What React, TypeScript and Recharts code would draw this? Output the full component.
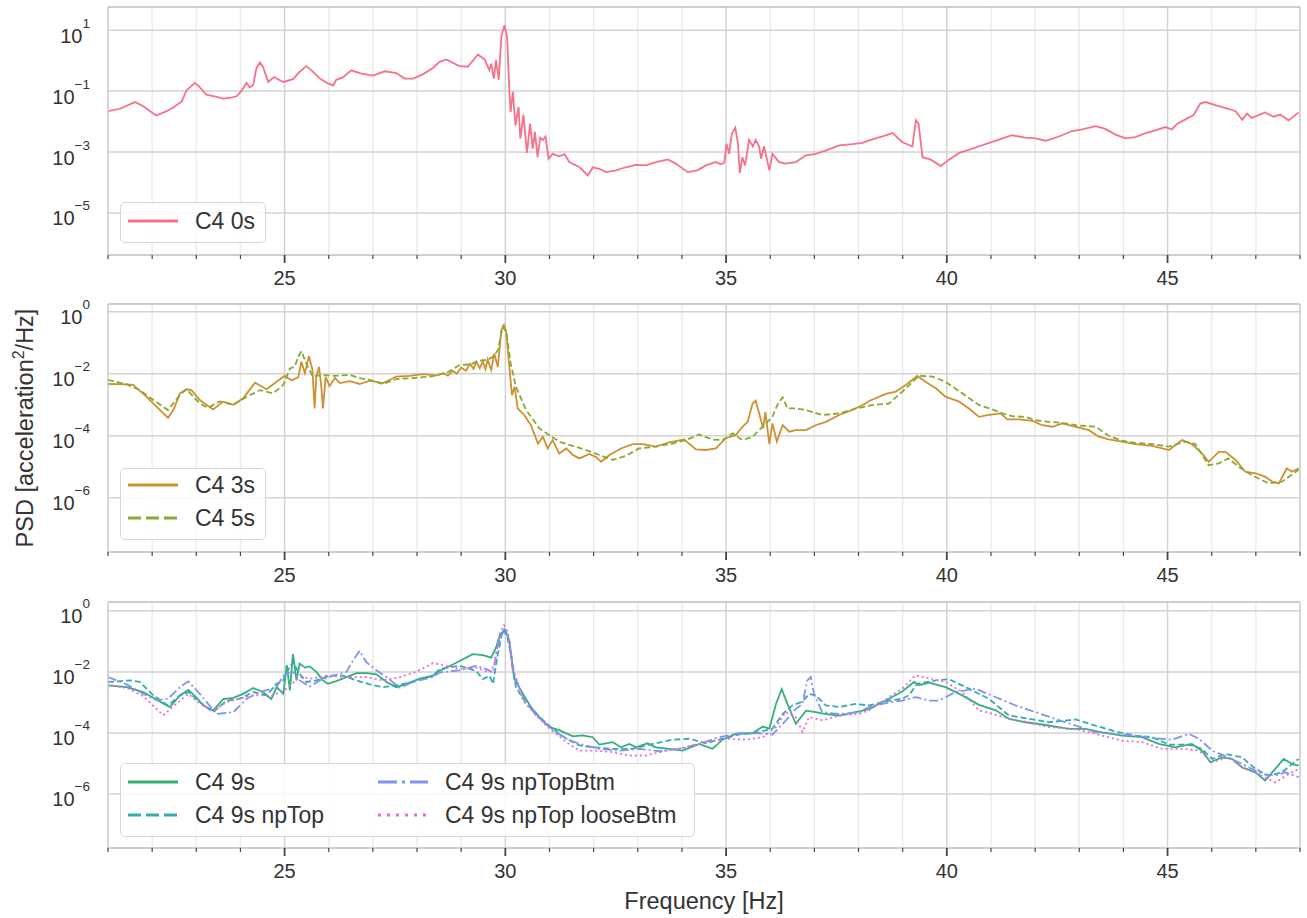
import React from "react"
import { LineChart, Line, XAxis, YAxis, CartesianGrid, ReferenceLine, Label } from "recharts"

// each point: [frequency in Hz, log10 of PSD in acceleration^2/Hz]
type Pt = [number, number]

const freqTicks = [21, 22, 23, 24, 25, 26, 27, 28, 29, 30, 31, 32, 33, 34, 35, 36, 37, 38, 39, 40, 41, 42, 43, 44, 45, 46, 47, 48]
const freqMajor = [25, 30, 35, 40, 45]
const freqMinor = [22, 23, 24, 26, 27, 28, 29, 31, 32, 33, 34, 36, 37, 38, 39, 41, 42, 43, 44, 46, 47]
const decadesTop = [1, -1, -3, -5]
const decadesLower = [0, -2, -4, -6]

const c4_0s: Pt[] = [
  [21.0, -1.66], [21.27, -1.58], [21.61, -1.36], [21.8, -1.5], [22.09, -1.8], [22.33, -1.66], [22.48, -1.54],
  [22.67, -1.34], [22.78, -0.97], [22.97, -0.73], [23.08, -0.88], [23.23, -1.12], [23.46, -1.19], [23.61, -1.25],
  [23.76, -1.22], [23.91, -1.17], [24.02, -1.0], [24.14, -0.73], [24.21, -0.88], [24.29, -0.8], [24.36, -0.26],
  [24.44, -0.06], [24.51, -0.2], [24.63, -0.7], [24.76, -0.54], [24.97, -0.7], [25.19, -0.61], [25.34, -0.37],
  [25.49, -0.18], [25.61, -0.32], [25.8, -0.59], [25.98, -0.75], [26.1, -0.81], [26.17, -0.63], [26.32, -0.55],
  [26.51, -0.32], [26.74, -0.43], [27.0, -0.49], [27.27, -0.35], [27.53, -0.41], [27.72, -0.59], [27.91, -0.59],
  [28.13, -0.45], [28.36, -0.24], [28.51, -0.04], [28.66, 0.04], [28.96, -0.18], [29.15, -0.2], [29.38, 0.2],
  [29.53, 0.04], [29.64, -0.32], [29.68, -0.1], [29.74, -0.59], [29.79, 0.02], [29.85, -0.63], [29.91, 0.78],
  [29.98, 1.16], [30.04, 0.78], [30.09, -0.97], [30.12, -1.69], [30.17, -1.02], [30.23, -2.13], [30.3, -1.52],
  [30.34, -2.56], [30.41, -1.77], [30.49, -3.03], [30.56, -2.07], [30.62, -2.89], [30.67, -2.34], [30.73, -3.17],
  [30.79, -2.53], [30.85, -2.61], [30.91, -2.49], [30.98, -3.22], [31.07, -3.06], [31.22, -3.14], [31.34, -3.07],
  [31.45, -3.33], [31.68, -3.5], [31.87, -3.77], [31.98, -3.5], [32.13, -3.55], [32.28, -3.66], [32.51, -3.6],
  [32.73, -3.5], [32.96, -3.42], [33.19, -3.44], [33.41, -3.33], [33.68, -3.24], [33.86, -3.38], [34.13, -3.66],
  [34.35, -3.6], [34.54, -3.44], [34.77, -3.33], [34.88, -3.4], [34.96, -3.35], [35.01, -2.73], [35.07, -3.06],
  [35.13, -2.4], [35.21, -2.2], [35.27, -2.73], [35.31, -3.69], [35.37, -3.17], [35.43, -3.44], [35.52, -2.6],
  [35.61, -2.82], [35.67, -2.6], [35.75, -2.82], [35.79, -3.22], [35.86, -2.82], [35.98, -3.6], [36.05, -3.06],
  [36.2, -3.33], [36.35, -3.38], [36.58, -3.33], [36.81, -3.11], [37.03, -3.06], [37.3, -2.93], [37.56, -2.78],
  [37.86, -2.74], [38.09, -2.7], [38.24, -2.62], [38.54, -2.49], [38.77, -2.38], [38.99, -2.67], [39.22, -2.82],
  [39.3, -1.96], [39.36, -2.07], [39.45, -3.17], [39.64, -3.25], [39.86, -3.46], [40.05, -3.25], [40.28, -3.03],
  [40.5, -2.93], [40.73, -2.81], [41.03, -2.67], [41.26, -2.55], [41.48, -2.45], [41.78, -2.53], [42.01, -2.55],
  [42.24, -2.63], [42.54, -2.49], [42.84, -2.31], [43.07, -2.26], [43.37, -2.15], [43.59, -2.24], [43.82, -2.43],
  [44.05, -2.55], [44.27, -2.51], [44.5, -2.38], [44.73, -2.29], [44.95, -2.18], [45.1, -2.26], [45.22, -2.07],
  [45.48, -1.87], [45.59, -1.79], [45.74, -1.41], [45.86, -1.36], [46.08, -1.46], [46.38, -1.58], [46.54, -1.66],
  [46.69, -1.94], [46.8, -1.74], [46.91, -1.88], [47.21, -1.7], [47.4, -1.84], [47.55, -1.77], [47.74, -1.96],
  [47.97, -1.7],
]

const c4_3s: Pt[] = [
  [21.0, -2.33], [21.42, -2.34], [21.57, -2.36], [21.87, -2.74], [22.18, -3.17], [22.36, -3.42], [22.48, -3.17],
  [22.63, -2.63], [22.78, -2.5], [22.89, -2.53], [23.08, -2.85], [23.38, -3.15], [23.61, -2.9], [23.84, -3.0],
  [24.06, -2.79], [24.33, -2.29], [24.59, -2.5], [24.82, -2.26], [25.0, -2.07], [25.16, -2.22], [25.31, -2.11],
  [25.38, -1.61], [25.46, -1.98], [25.55, -1.43], [25.63, -1.87], [25.68, -3.12], [25.72, -2.07], [25.78, -1.78],
  [25.83, -2.4], [25.87, -3.12], [25.93, -2.1], [26.02, -2.4], [26.14, -2.13], [26.25, -2.3], [26.48, -2.24],
  [26.7, -2.33], [26.93, -2.22], [27.23, -2.3], [27.53, -2.09], [27.83, -2.07], [28.13, -2.01], [28.44, -2.05],
  [28.6, -1.98], [28.7, -2.06], [28.81, -1.91], [28.9, -2.0], [29.0, -1.8], [29.11, -1.9], [29.2, -1.68],
  [29.28, -1.84], [29.34, -1.61], [29.42, -1.82], [29.49, -1.6], [29.55, -1.85], [29.6, -1.54], [29.68, -1.88],
  [29.75, -1.35], [29.83, -1.78], [29.91, -0.59], [29.97, -0.43], [30.02, -0.64], [30.09, -1.78], [30.15, -2.69],
  [30.21, -2.42], [30.28, -3.12], [30.43, -3.33], [30.58, -3.66], [30.74, -4.25], [30.85, -4.03], [30.96, -4.41],
  [31.07, -4.14], [31.22, -4.57], [31.38, -4.41], [31.53, -4.62], [31.68, -4.73], [31.9, -4.59], [32.05, -4.68],
  [32.17, -4.84], [32.36, -4.62], [32.62, -4.41], [32.88, -4.27], [33.11, -4.27], [33.41, -4.35], [33.71, -4.21],
  [34.05, -4.12], [34.32, -4.44], [34.54, -4.46], [34.77, -4.41], [34.99, -4.08], [35.22, -3.98], [35.37, -3.71],
  [35.49, -3.55], [35.6, -2.96], [35.67, -2.87], [35.75, -3.28], [35.84, -3.76], [35.89, -3.23], [35.98, -4.27],
  [36.05, -3.6], [36.15, -4.19], [36.28, -3.66], [36.43, -3.87], [36.58, -3.82], [36.81, -3.82], [37.03, -3.66],
  [37.26, -3.55], [37.56, -3.33], [37.86, -3.17], [38.16, -2.96], [38.24, -2.88], [38.62, -2.65], [38.84, -2.58],
  [39.07, -2.36], [39.33, -2.07], [39.52, -2.26], [39.75, -2.47], [39.97, -2.74], [40.28, -2.9], [40.5, -3.12],
  [40.73, -3.39], [40.95, -3.33], [41.22, -3.28], [41.37, -3.47], [41.63, -3.47], [41.94, -3.52], [42.16, -3.66],
  [42.39, -3.71], [42.61, -3.6], [42.92, -3.71], [43.22, -3.82], [43.44, -4.03], [43.67, -4.12], [43.97, -4.19],
  [44.27, -4.27], [44.65, -4.33], [45.03, -4.46], [45.33, -4.14], [45.55, -4.27], [45.78, -4.57], [45.93, -4.84],
  [46.16, -4.52], [46.31, -4.52], [46.54, -4.78], [46.76, -5.16], [46.99, -5.21], [47.21, -5.32], [47.37, -5.48],
  [47.52, -5.54], [47.7, -5.05], [47.82, -5.16], [47.97, -5.05],
]

const c4_5s: Pt[] = [
  [21.0, -2.2], [21.42, -2.34], [21.72, -2.53], [22.03, -2.85], [22.36, -3.17], [22.63, -2.68], [22.78, -2.5],
  [23.08, -2.96], [23.27, -3.1], [23.53, -2.89], [23.84, -3.0], [24.14, -2.74], [24.44, -2.53], [24.74, -2.63],
  [24.97, -2.36], [25.12, -1.83], [25.23, -1.77], [25.31, -1.45], [25.38, -1.27], [25.49, -1.67], [25.64, -2.09],
  [25.83, -2.04], [26.1, -2.07], [26.48, -2.04], [26.7, -2.14], [26.93, -2.2], [27.23, -2.33], [27.53, -2.17],
  [27.91, -2.14], [28.36, -2.08], [28.7, -1.95], [28.96, -1.72], [29.2, -1.7], [29.42, -1.58], [29.6, -1.55],
  [29.72, -1.45], [29.83, -1.24], [29.94, -0.49], [30.02, -0.64], [30.12, -1.67], [30.24, -2.42], [30.47, -3.17],
  [30.77, -3.76], [31.0, -3.98], [31.22, -4.19], [31.53, -4.33], [31.83, -4.46], [32.13, -4.62], [32.43, -4.78],
  [32.73, -4.65], [33.03, -4.41], [33.41, -4.35], [33.79, -4.25], [34.09, -4.14], [34.39, -3.96], [34.69, -4.12],
  [34.92, -4.14], [35.15, -3.92], [35.37, -4.14], [35.6, -4.03], [35.75, -3.82], [36.05, -3.39], [36.16, -3.01],
  [36.28, -2.76], [36.39, -3.12], [36.58, -3.12], [36.81, -3.17], [37.18, -3.33], [37.56, -3.28], [37.94, -3.12],
  [38.31, -3.01], [38.69, -2.96], [38.99, -2.58], [39.37, -2.07], [39.67, -2.09], [39.97, -2.26], [40.35, -2.63],
  [40.73, -3.01], [41.03, -3.15], [41.26, -3.28], [41.48, -3.37], [41.78, -3.39], [42.01, -3.5], [42.31, -3.55],
  [42.61, -3.58], [42.92, -3.66], [43.37, -3.71], [43.67, -4.0], [43.97, -4.16], [44.27, -4.23], [44.65, -4.27],
  [45.03, -4.35], [45.4, -4.19], [45.63, -4.27], [45.93, -4.95], [46.16, -4.89], [46.38, -4.73], [46.61, -5.0],
  [46.91, -5.27], [47.29, -5.54], [47.59, -5.48], [47.97, -5.1],
]

const c4_9s: Pt[] = [
  [21.0, -2.44], [21.42, -2.5], [21.8, -2.66], [22.1, -2.91], [22.4, -3.15], [22.63, -2.77], [22.82, -2.59],
  [23.01, -2.85], [23.16, -3.1], [23.38, -3.27], [23.61, -2.89], [23.84, -2.85], [24.06, -2.72], [24.29, -2.53],
  [24.51, -2.66], [24.7, -2.89], [24.82, -2.5], [24.97, -2.72], [25.05, -1.78], [25.12, -2.61], [25.19, -1.42],
  [25.27, -2.28], [25.34, -1.73], [25.46, -1.86], [25.57, -1.82], [25.72, -2.0], [25.87, -2.28], [25.98, -2.39],
  [26.17, -2.3], [26.4, -2.17], [26.63, -2.04], [26.85, -2.04], [27.08, -2.08], [27.31, -2.33], [27.53, -2.5],
  [27.76, -2.39], [28.06, -2.22], [28.36, -2.12], [28.51, -1.97], [28.89, -1.7], [29.26, -1.42], [29.49, -1.45],
  [29.68, -1.53], [29.79, -1.2], [29.87, -0.82], [29.98, -0.61], [30.09, -0.96], [30.2, -2.22], [30.4, -2.72],
  [30.58, -3.15], [30.77, -3.48], [31.0, -3.81], [31.22, -3.91], [31.53, -4.11], [31.75, -4.08], [31.98, -4.14],
  [32.13, -4.38], [32.43, -4.3], [32.62, -4.47], [32.81, -4.36], [32.96, -4.47], [33.22, -4.34], [33.41, -4.47],
  [33.71, -4.52], [34.02, -4.58], [34.39, -4.36], [34.69, -4.52], [34.92, -4.22], [35.22, -4.03], [35.6, -4.01],
  [35.83, -3.79], [35.98, -3.86], [36.13, -3.05], [36.26, -2.57], [36.39, -3.05], [36.58, -3.7], [36.81, -3.27],
  [37.03, -3.32], [37.26, -3.38], [37.56, -3.43], [37.94, -3.32], [38.24, -3.22], [38.69, -2.88], [38.99, -2.64],
  [39.26, -2.33], [39.37, -2.44], [39.6, -2.35], [39.97, -2.5], [40.35, -2.77], [40.73, -3.08], [41.11, -3.26],
  [41.41, -3.54], [41.78, -3.65], [42.24, -3.74], [42.76, -3.87], [43.14, -3.87], [43.52, -3.98], [43.97, -4.09],
  [44.42, -4.14], [44.8, -4.36], [45.18, -4.47], [45.55, -4.36], [45.78, -4.58], [45.97, -4.96], [46.23, -4.8],
  [46.46, -4.85], [46.69, -5.13], [46.99, -5.29], [47.21, -5.56], [47.44, -5.18], [47.63, -4.85], [47.82, -5.02],
  [47.97, -5.07],
]

const c4_9s_npTop: Pt[] = [
  [21.0, -2.33], [21.5, -2.28], [21.72, -2.33], [22.03, -2.77], [22.36, -3.1], [22.63, -2.77], [22.82, -2.66],
  [23.08, -2.99], [23.38, -3.32], [23.68, -2.95], [23.98, -2.88], [24.29, -2.66], [24.59, -2.77], [24.82, -2.39],
  [24.97, -2.28], [25.05, -2.0], [25.19, -1.67], [25.31, -2.0], [25.49, -2.33], [25.72, -2.28], [26.02, -2.12],
  [26.32, -2.12], [26.63, -2.28], [26.93, -2.41], [27.23, -2.5], [27.53, -2.44], [27.91, -2.33], [28.36, -2.12],
  [28.51, -1.91], [28.96, -1.8], [29.34, -1.97], [29.49, -2.24], [29.64, -2.12], [29.72, -2.39], [29.83, -1.42],
  [29.94, -0.64], [30.02, -0.69], [30.13, -1.42], [30.24, -2.5], [30.4, -2.88], [30.55, -3.15], [30.77, -3.48],
  [31.07, -3.86], [31.38, -4.19], [31.68, -4.41], [31.98, -4.47], [32.43, -4.52], [32.88, -4.52], [33.34, -4.36],
  [33.79, -4.22], [34.17, -4.19], [34.54, -4.34], [34.92, -4.19], [35.3, -4.05], [35.75, -3.97], [36.05, -3.86],
  [36.28, -3.38], [36.5, -3.1], [36.73, -2.97], [36.88, -2.72], [37.03, -2.77], [37.26, -3.1], [37.56, -3.15],
  [37.94, -3.05], [38.24, -3.1], [38.69, -2.94], [38.99, -2.88], [39.14, -2.77], [39.33, -2.39], [39.75, -2.28],
  [40.05, -2.24], [40.5, -2.55], [40.95, -2.88], [41.41, -3.43], [41.86, -3.54], [42.31, -3.65], [42.92, -3.56],
  [43.37, -3.76], [43.82, -3.95], [44.27, -4.09], [44.65, -4.14], [45.03, -4.38], [45.48, -4.38], [45.78, -4.52],
  [46.01, -4.85], [46.31, -4.69], [46.69, -4.8], [46.99, -5.18], [47.29, -5.4], [47.59, -5.29], [47.97, -4.85],
]

const c4_9s_npTopBtm: Pt[] = [
  [21.0, -2.17], [21.42, -2.41], [21.8, -2.72], [22.1, -2.93], [22.36, -2.88], [22.63, -2.5], [22.82, -2.31],
  [23.08, -2.72], [23.46, -3.38], [23.84, -3.32], [24.14, -2.88], [24.44, -2.66], [24.82, -2.5], [25.0, -2.06],
  [25.19, -2.0], [25.34, -2.28], [25.57, -2.48], [25.8, -2.28], [26.1, -2.12], [26.4, -2.0], [26.55, -1.62],
  [26.7, -1.31], [26.85, -1.68], [27.08, -1.95], [27.31, -2.17], [27.61, -2.52], [27.91, -2.33], [28.36, -2.17],
  [28.51, -2.02], [28.96, -1.95], [29.34, -1.8], [29.57, -1.91], [29.72, -2.02], [29.83, -1.15], [29.94, -0.69],
  [30.06, -0.8], [30.17, -1.97], [30.4, -2.83], [30.7, -3.43], [31.07, -3.9], [31.38, -4.19], [31.68, -4.36],
  [32.13, -4.52], [32.58, -4.58], [33.03, -4.52], [33.49, -4.6], [33.94, -4.52], [34.39, -4.36], [34.84, -4.14],
  [35.3, -4.01], [35.75, -4.01], [36.05, -4.05], [36.35, -3.6], [36.58, -3.21], [36.73, -3.05], [36.84, -2.28],
  [36.92, -2.17], [36.99, -2.72], [37.18, -3.32], [37.56, -3.38], [38.01, -3.32], [38.24, -3.15], [38.69, -3.0],
  [38.99, -2.94], [39.3, -2.83], [39.6, -2.94], [39.82, -2.94], [40.2, -2.66], [40.65, -2.55], [41.11, -2.83],
  [41.56, -3.1], [42.01, -3.32], [42.46, -3.54], [42.92, -3.76], [43.37, -3.98], [43.82, -4.03], [44.27, -4.09],
  [44.73, -4.18], [45.1, -4.22], [45.48, -4.03], [45.71, -4.19], [46.01, -4.58], [46.38, -4.8], [46.76, -5.07],
  [47.14, -5.35], [47.44, -5.4], [47.67, -5.29], [47.97, -5.45],
]

const c4_9s_npTop_looseBtm: Pt[] = [
  [21.0, -2.44], [21.42, -2.52], [21.8, -2.8], [22.25, -3.42], [22.55, -3.04], [22.82, -2.72], [23.08, -3.04],
  [23.38, -3.28], [23.68, -2.99], [23.98, -2.88], [24.29, -2.77], [24.74, -2.77], [25.05, -2.55], [25.34, -2.17],
  [25.64, -2.22], [25.95, -2.12], [26.4, -2.17], [26.85, -2.17], [27.23, -2.28], [27.61, -2.17], [27.98, -2.0],
  [28.36, -1.71], [28.51, -1.75], [28.96, -1.91], [29.34, -1.86], [29.64, -2.02], [29.75, -1.75], [29.87, -0.75],
  [29.97, -0.47], [30.06, -0.69], [30.17, -1.86], [30.4, -2.94], [30.7, -3.43], [31.0, -3.86], [31.38, -4.3],
  [31.68, -4.58], [32.05, -4.58], [32.43, -4.63], [32.81, -4.74], [33.19, -4.74], [33.64, -4.58], [34.09, -4.47],
  [34.54, -4.3], [34.99, -4.19], [35.45, -4.22], [35.83, -4.14], [36.13, -3.81], [36.35, -3.32], [36.58, -3.48],
  [36.73, -3.97], [36.88, -3.48], [37.18, -3.59], [37.56, -3.43], [38.01, -3.38], [38.24, -3.26], [38.69, -2.83],
  [38.99, -2.55], [39.29, -2.11], [39.6, -2.22], [39.97, -2.33], [40.35, -2.66], [40.73, -3.26], [41.03, -3.37],
  [41.41, -3.54], [41.86, -3.65], [42.31, -3.81], [42.92, -3.87], [43.52, -4.09], [43.97, -4.25], [44.42, -4.3],
  [44.88, -4.52], [45.4, -4.52], [45.71, -4.58], [46.01, -4.96], [46.38, -4.8], [46.69, -5.13], [47.06, -5.35],
  [47.44, -5.62], [47.74, -5.35], [47.97, -5.18],
]

type Series = { name: string; pts: Pt[]; color: string; dash?: string; legendDash?: string }

const seriesTop: Series[] = [{ name: "C4 0s", pts: c4_0s, color: "#f77189" }]
const seriesMid: Series[] = [
  { name: "C4 3s", pts: c4_3s, color: "#ce9032" },
  { name: "C4 5s", pts: c4_5s, color: "#86ab33", dash: "6 3", legendDash: "13 5" },
]
const seriesLow: Series[] = [
  { name: "C4 9s", pts: c4_9s, color: "#33b07a" },
  { name: "C4 9s npTop", pts: c4_9s_npTop, color: "#36abb0", dash: "6 3", legendDash: "13 5" },
  { name: "C4 9s npTopBtm", pts: c4_9s_npTopBtm, color: "#8094f0", dash: "9 3 2 3", legendDash: "19 5 3 5" },
  { name: "C4 9s npTop looseBtm", pts: c4_9s_npTop_looseBtm, color: "#f066e0", dash: "2 3", legendDash: "3 6" },
]

const FONT = "'Liberation Sans', Arial, Helvetica, sans-serif"
const TEXT = "#333333"

const toRows = (pts: Pt[]) => pts.map(([f, e]) => ({ f, v: Math.pow(10, e) }))

function XTick(props: any) {
  const { x, y, payload } = props
  const major = payload.value % 5 === 0
  return (
    <g>
      <line x1={x} x2={x} y1={y} y2={y + (major ? 8 : 4)} stroke="#444" strokeWidth={major ? 1.8 : 1.2} />
      {major && (
        <text x={x} y={y + 30} textAnchor="middle" fontSize={20} fontFamily={FONT} fill={TEXT}>
          {payload.value}
        </text>
      )}
    </g>
  )
}

function YTick(props: any) {
  const { x, y, payload } = props
  const exp = Math.round(Math.log10(payload.value))
  const sup = exp < 0 ? "\u2212" + String(-exp) : String(exp)
  return (
    <text x={x} y={y + 12.5} textAnchor="end" fontSize={20} fontFamily={FONT} fill={TEXT}>
      10
      <tspan dy={-15} fontSize={13.5}>{sup}</tspan>
    </text>
  )
}

function PsdLabel(props: any) {
  const vb = props.viewBox
  const cx = 33
  const cy = vb.y + vb.height / 2
  return (
    <text x={cx} y={cy} transform={`rotate(-90, ${cx}, ${cy})`} textAnchor="middle" fontSize={23.5} fontFamily={FONT} fill={TEXT}>
      PSD [acceleration
      <tspan dy={-9} fontSize={16}>2</tspan>
      <tspan dy={9}>/Hz]</tspan>
    </text>
  )
}

function FreqLabel(props: any) {
  const vb = props.viewBox
  return (
    <text x={vb.x + vb.width / 2} y={vb.y + 61} textAnchor="middle" fontSize={23.5} fontFamily={FONT} fill={TEXT}>
      Frequency [Hz]
    </text>
  )
}

type LegendBox = { left: number; top: number; width: number; height: number; rows: number[]; cols: number[] }

function PanelLegend({ box, series }: { box: LegendBox; series: Series[] }) {
  const perCol = box.rows.length
  return (
    <div
      style={{
        position: "absolute",
        left: box.left,
        top: box.top,
        width: box.width,
        height: box.height,
        boxSizing: "border-box",
        border: "1px solid #d6d6d6",
        borderRadius: 5,
        background: "rgba(255,255,255,0.85)",
      }}
    >
      <svg width={box.width - 2} height={box.height - 2} style={{ display: "block" }}>
        {series.map((s, i) => {
          const col = Math.floor(i / perCol)
          const ry = box.rows[i % perCol]
          const lx = box.cols[col]
          return (
            <g key={s.name}>
              <line x1={lx} x2={lx + 50} y1={ry} y2={ry} stroke={s.color} strokeWidth={3} strokeDasharray={s.legendDash} />
              <text x={lx + 67} y={ry + 8} fontSize={23} fontFamily={FONT} fill={TEXT}>
                {s.name}
              </text>
            </g>
          )
        })}
      </svg>
    </div>
  )
}

type Panel = {
  key: string
  top: number
  height: number
  marginTop: number
  axisHeight: number
  expMin: number
  expMax: number
  decades: number[]
  series: Series[]
  legend: LegendBox
  yLabel?: boolean
  xLabel?: boolean
}

const panels: Panel[] = [
  {
    key: "top", top: 0, height: 300, marginTop: 7, axisHeight: 45, expMin: -6.38, expMax: 1.76,
    decades: decadesTop, series: seriesTop,
    legend: { left: 120, top: 202, width: 146, height: 41, rows: [18], cols: [7] },
  },
  {
    key: "mid", top: 297, height: 300, marginTop: 7, axisHeight: 45, expMin: -7.75, expMax: 0.25,
    decades: decadesLower, series: seriesMid, yLabel: true,
    legend: { left: 120, top: 468, width: 146, height: 72, rows: [16, 49], cols: [7] },
  },
  {
    key: "low", top: 594, height: 324, marginTop: 8, axisHeight: 70, expMin: -7.77, expMax: 0.29,
    decades: decadesLower, series: seriesLow, xLabel: true,
    legend: { left: 120, top: 763, width: 575, height: 74, rows: [18, 51], cols: [7, 257] },
  },
]

function PsdPanel({ p }: { p: Panel }) {
  const lo = Math.pow(10, p.expMin)
  const hi = Math.pow(10, p.expMax)
  const spine = { stroke: "#c9c9c9", strokeWidth: 1.5, ifOverflow: "visible" as const }
  return (
    <div style={{ position: "absolute", left: 0, top: p.top }}>
      <LineChart width={1307} height={p.height} margin={{ top: p.marginTop, right: 7, bottom: 0, left: 0 }}>
        <CartesianGrid horizontal={false} verticalValues={freqMinor} stroke="#ebebeb" strokeWidth={1.5} />
        <CartesianGrid verticalValues={freqMajor} stroke="#d3d3d3" strokeWidth={1.5} />
        <XAxis
          dataKey="f"
          type="number"
          domain={[21, 48]}
          allowDataOverflow
          ticks={freqTicks}
          interval={0}
          tickSize={0}
          tickMargin={0}
          tick={XTick}
          axisLine={false}
          height={p.axisHeight}
        >
          {p.xLabel && <Label content={FreqLabel} />}
        </XAxis>
        <YAxis
          type="number"
          scale="log"
          domain={[lo, hi]}
          allowDataOverflow
          ticks={p.decades.map((d) => Math.pow(10, d))}
          interval={0}
          tickSize={0}
          tickMargin={18}
          tick={YTick}
          axisLine={false}
          width={108}
        >
          {p.yLabel && <Label content={PsdLabel} />}
        </YAxis>
        {p.series.map((s) => (
          <Line
            key={s.name}
            data={toRows(s.pts)}
            dataKey="v"
            name={s.name}
            type="linear"
            stroke={s.color}
            strokeWidth={1.8}
            strokeDasharray={s.dash}
            dot={false}
            activeDot={false}
            isAnimationActive={false}
          />
        ))}
        <ReferenceLine x={21} {...spine} />
        <ReferenceLine x={48} {...spine} />
        <ReferenceLine y={lo} {...spine} />
        <ReferenceLine y={hi} {...spine} />
      </LineChart>
      <PanelLegend box={{ ...p.legend, top: p.legend.top - p.top }} series={p.series} />
    </div>
  )
}

export default function App() {
  return (
    <div style={{ position: "absolute", left: 0, top: 0, width: 1307, height: 918, background: "#fff", overflow: "hidden" }}>
      {panels.map((p) => (
        <PsdPanel key={p.key} p={p} />
      ))}
    </div>
  )
}
